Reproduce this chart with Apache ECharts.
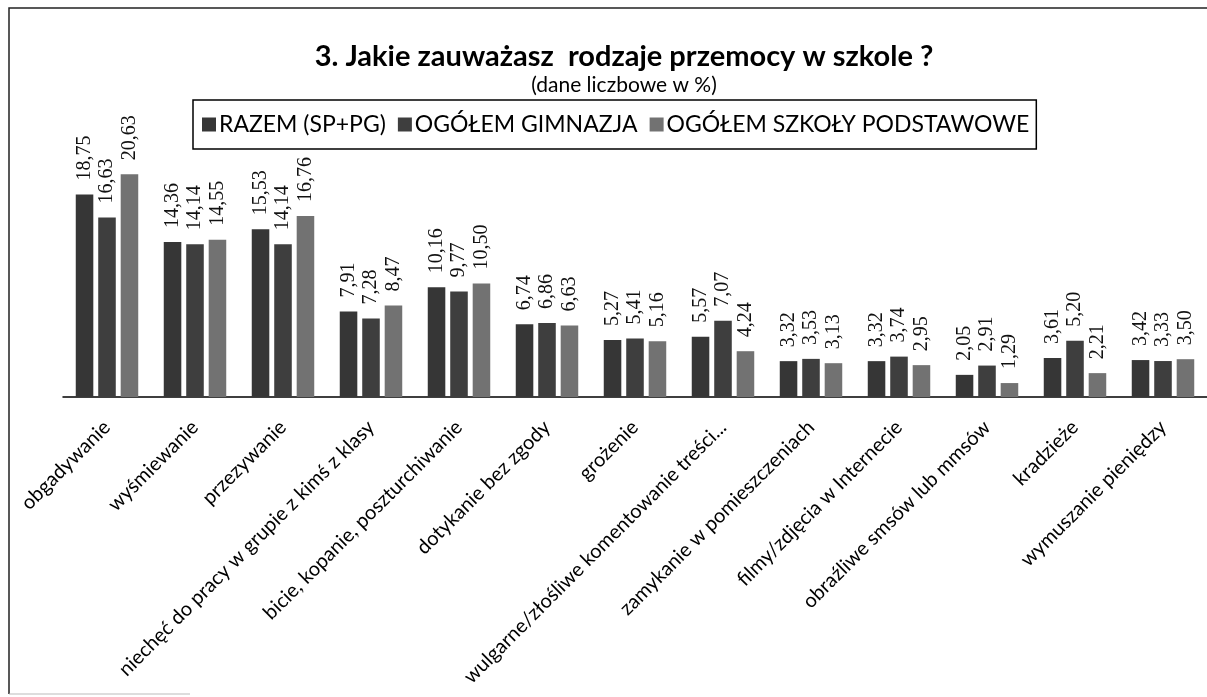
<!DOCTYPE html>
<html>
<head>
<meta charset="utf-8">
<script src="https://cdn.jsdelivr.net/npm/echarts@6/dist/echarts.min.js"></script>
<style>html,body{margin:0;padding:0;background:#fff;}#c{width:1207px;height:697px;}</style>
</head>
<body>
<div id="c"></div>
<script>
const categories = ['obgadywanie','wyśmiewanie','przezywanie','niechęć do pracy w grupie z kimś z klasy','bicie, kopanie, poszturchiwanie','dotykanie bez zgody','grożenie','wulgarne/złośliwe komentowanie treści...','zamykanie w pomieszczeniach','filmy/zdjęcia w Internecie','obraźliwe smsów lub mmsów','kradzieże','wymuszanie pieniędzy'];
const seriesNames = ['RAZEM (SP+PG)','OGÓŁEM GIMNAZJA','OGÓŁEM SZKOŁY PODSTAWOWE'];
const razem = [18.75,14.36,15.53,7.91,10.16,6.74,5.27,5.57,3.32,3.32,2.05,3.61,3.42];
const gimnazja = [16.63,14.14,14.14,7.28,9.77,6.86,5.41,7.07,3.53,3.74,2.91,5.20,3.33];
const podstawowe = [20.63,14.55,16.76,8.47,10.50,6.63,5.16,4.24,3.13,2.95,1.29,2.21,3.50];
const colors = ['#363636','#3e3e3e','#727272'];

const chart = echarts.init(document.getElementById('c'), null, {renderer:'canvas'});
const fmt = p => p.value.toFixed(2).replace('.', ',');
function mk(name, data, color){
  return {
    name, type:'bar', data,
    barGap:'28%', barCategoryGap:'29%',
    itemStyle:{color},
    label:{show:true, position:'top', rotate:90, align:'left', verticalAlign:'middle', distance:14,
      formatter:fmt, fontFamily:'Liberation Serif', fontSize:20, color:'#111'}
  };
}
chart.setOption({
  animation:false,
  backgroundColor:'#fff',
  title:{
    text:'3. Jakie zauważasz  rodzaje przemocy w szkole ?',
    subtext:'(dane liczbowe w %)',
    left:619, textAlign:'center', top:37, itemGap:4,
    textStyle:{fontFamily:'Lato', fontWeight:'bold', fontSize:29, color:'#000'},
    subtextStyle:{fontFamily:'Lato', fontSize:21, color:'#000'}
  },
  legend:{
    data:seriesNames, left:193, top:100,
    borderColor:'#000', borderWidth:1.5, padding:[13,7,13,9],
    itemWidth:14, itemHeight:14, itemGap:12,
    textStyle:{fontFamily:'Lato', fontSize:23, color:'#000', padding:[0,0,0,-2]},
    icon:'rect'
  },
  grid:{left:63, top:127, width:1151, height:270, containLabel:false},
  xAxis:{
    type:'category', data:categories,
    axisLine:{lineStyle:{color:'#000', width:1.5}},
    axisTick:{show:false},
    axisLabel:{interval:0, rotate:45, margin:27, fontFamily:'Lato', fontSize:20, color:'#000'}
  },
  yAxis:{type:'value', min:0, max:25, show:false, splitLine:{show:false}},
  series:[mk(seriesNames[0], razem, colors[0]), mk(seriesNames[1], gimnazja, colors[1]), mk(seriesNames[2], podstawowe, colors[2])],
  graphic:[
    {type:'polyline', shape:{points:[[9,694],[9,8],[1207,8]]}, style:{stroke:'#222', lineWidth:1.5, fill:null}, silent:true},
    {type:'line', shape:{x1:9,y1:694,x2:190,y2:694}, style:{stroke:'#bbb', lineWidth:1}, silent:true}
  ]
});
</script>
</body>
</html>
